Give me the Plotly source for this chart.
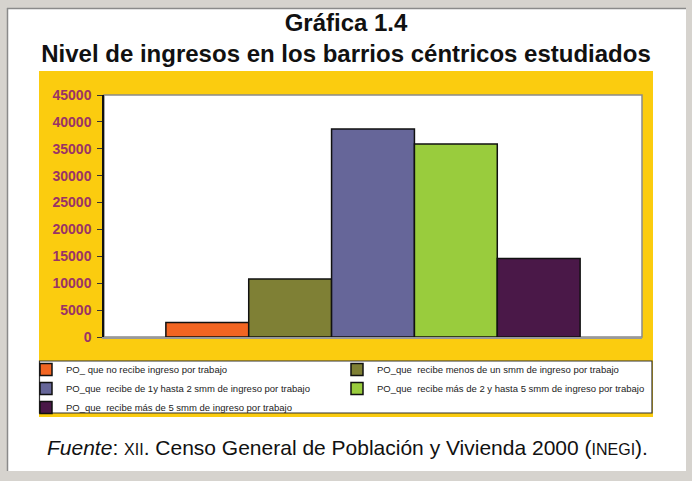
import plotly.graph_objects as go

# Población ocupada por nivel de ingreso (barrios céntricos)
SERIES = [
    "PO_ que no recibe ingreso por trabajo",
    "PO_que  recibe menos de un smm de ingreso por trabajo",
    "PO_que  recibe de 1y hasta 2 smm de ingreso por trabajo",
    "PO_que  recibe más de 2 y hasta 5 smm de ingreso por trabajo",
    "PO_que  recibe más de 5 smm de ingreso por trabajo",
]
VALUES = [2700, 10800, 38700, 35900, 14600]
COLORS = ["#F26522", "#7F8035", "#666699", "#99CC3D", "#4A1848"]
Y_TICKS = list(range(0, 45001, 5000))

W, H = 692, 481
L, R, T, B = 104, 50, 95, 144
PW, PH = W - L - R, H - T - B


def px_x(x):
    return (x - L) / PW


def px_y(y):
    return (H - B - y) / PH


fig = go.Figure()
for name, val, col in zip(SERIES, VALUES, COLORS):
    fig.add_trace(go.Bar(
        x=[""], y=[val], name=name,
        marker=dict(color=col, line=dict(color="#111111", width=1.5)),
    ))

shapes = [
    # page
    dict(type="rect", xref="paper", yref="paper", x0=px_x(7), x1=px_x(686), y0=px_y(471), y1=px_y(8),
         fillcolor="white", line=dict(width=0), layer="below"),
    dict(type="line", xref="paper", yref="paper", x0=px_x(7), x1=px_x(686), y0=px_y(8.5), y1=px_y(8.5),
         line=dict(color="#8a8a8a", width=1.5), layer="below"),
    dict(type="line", xref="paper", yref="paper", x0=px_x(7.5), x1=px_x(7.5), y0=px_y(471), y1=px_y(8),
         line=dict(color="#8a8a8a", width=1.5), layer="below"),
    # yellow chart area
    dict(type="rect", xref="paper", yref="paper", x0=px_x(39), x1=px_x(653), y0=px_y(417), y1=px_y(71),
         fillcolor="#FBCC0F", line=dict(width=0), layer="below"),
    # plot area
    dict(type="rect", xref="paper", yref="paper", x0=0, x1=1, y0=0, y1=1,
         fillcolor="white", line=dict(color="#8a8a8a", width=1.5), layer="below"),
    # legend box
    dict(type="rect", xref="paper", yref="paper", x0=px_x(39.5), x1=px_x(652), y0=px_y(413), y1=px_y(361),
         fillcolor="white", line=dict(color="#333333", width=1.2), layer="below"),
]

fig.update_layout(
    width=W, height=H,
    margin=dict(l=L, r=R, t=T, b=B),
    paper_bgcolor="#D6D3CE",
    plot_bgcolor="white",
    barmode="group",
    bargap=0.23,
    bargroupgap=0,
    font=dict(family="Liberation Sans, Arial, sans-serif", color="#111111"),
    title=dict(
        text="<b>Gráfica 1.4<br>Nivel de ingresos en los barrios céntricos estudiados</b>",
        x=0.5, xref="container", xanchor="center",
        y=1 - 31 / H, yref="container", yanchor="middle",
        font=dict(size=24, color="#111111"),
    ),
    xaxis=dict(showticklabels=False, showline=True, linecolor="#999999", linewidth=1.5,
               ticks="", showgrid=False, zeroline=False),
    yaxis=dict(range=[0, 45000], tickvals=Y_TICKS, tickformat="d", ticks="outside", ticklen=5,
               tickcolor="#333333", tickwidth=1.2, showline=True, linecolor="#111111", linewidth=1.5,
               showgrid=False, zeroline=False, ticklabelstandoff=3,
               tickfont=dict(size=14, color="#993366", weight="bold")),
    showlegend=True,
    legend=dict(
        orientation="h", x=px_x(26), xanchor="left", y=px_y(355), yanchor="top",
        entrywidth=266, entrywidthmode="pixels",
        bgcolor="rgba(0,0,0,0)", borderwidth=0,
        font=dict(size=9.5, color="#222222"),
        traceorder="normal",
    ),
    shapes=shapes,
    annotations=[dict(
        text="<i>Fuente</i>: <span style='font-size:16px'>XII</span>. Censo General de Población "
             "y Vivienda 2000 (<span style='font-size:16px'>INEGI</span>).",
        x=px_x(347), xref="paper", xanchor="center",
        y=px_y(447), yref="paper", yanchor="middle",
        showarrow=False, font=dict(size=21, color="#111111"),
    )],
)

fig.write_html("out.html", config={"displayModeBar": False},
               post_script="document.body.style.margin = '0';")
